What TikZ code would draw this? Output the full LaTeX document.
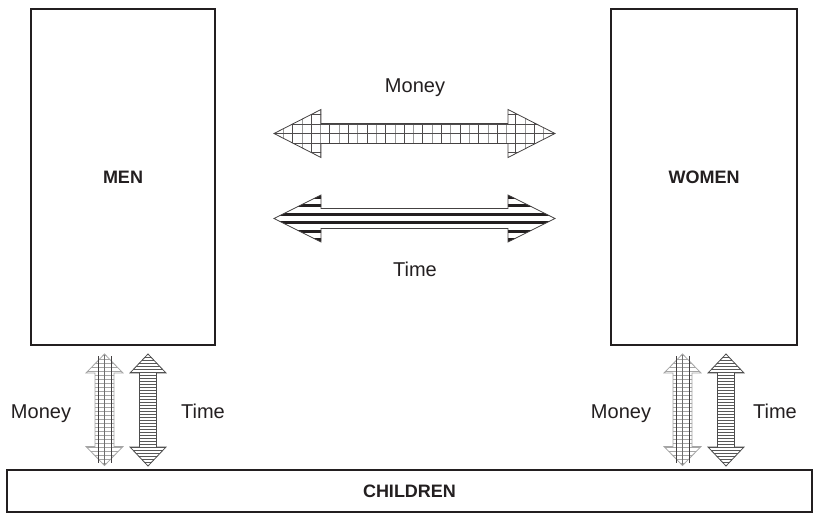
\documentclass[tikz,border=0pt]{standalone}
\usepackage{fontspec}
\setmainfont{Liberation Sans}
\definecolor{ink}{RGB}{35,31,32}
\definecolor{midgray}{RGB}{110,110,110}
\definecolor{lightgray}{RGB}{165,165,165}

% horizontal double block arrow: x1, x2, centre y, head length, head half-width, shaft half-width
\newcommand\hdblarrow[6]{(#1,#3) -- ({#1+#4},{#3-#5}) -- ({#1+#4},{#3-#6}) -- ({#2-#4},{#3-#6}) -- ({#2-#4},{#3-#5}) -- (#2,#3) -- ({#2-#4},{#3+#5}) -- ({#2-#4},{#3+#6}) -- ({#1+#4},{#3+#6}) -- ({#1+#4},{#3+#5}) -- cycle}
% vertical double block arrow: y1, y2, centre x, head length, head half-width, shaft half-width
\newcommand\vdblarrow[6]{(#3,#1) -- ({#3+#5},{#1+#4}) -- ({#3+#6},{#1+#4}) -- ({#3+#6},{#2-#4}) -- ({#3+#5},{#2-#4}) -- (#3,#2) -- ({#3-#5},{#2-#4}) -- ({#3-#6},{#2-#4}) -- ({#3-#6},{#1+#4}) -- ({#3-#5},{#1+#4}) -- cycle}

\tikzset{
  box/.style={draw=ink, line width=2pt, inner sep=0pt, fill=white,
    font=\fontsize{18}{21}\selectfont\bfseries, text=ink},
  lbl/.style={font=\fontsize{20}{24}\selectfont, text=ink, inner sep=0pt, anchor=base},
  outline/.style={draw=ink!85, line width=0.8pt, line join=miter},
  lightoutline/.style={draw=lightgray, line width=0.8pt},
  gridd/.style={draw=ink!80, line width=0.9pt},
  gridl/.style={draw=midgray!70, line width=0.8pt},
}

% money exchange between adults (grid-filled)
\newcommand\moneyH[1]{%
  \begin{scope}
    \clip \hdblarrow{274}{555}{#1}{47}{24}{10};
    \foreach \i in {0,2,...,30} \draw[gridd] ({274+\i*9.3},{#1-30}) -- ({274+\i*9.3},{#1+30});
    \foreach \i in {1,3,...,31} \draw[gridl] ({274+\i*9.3},{#1-30}) -- ({274+\i*9.3},{#1+30});
    \foreach \j in {-3,...,3} \draw[gridd] (270,{#1+\j*9.5}) -- (560,{#1+\j*9.5});
  \end{scope}
  \draw[outline] \hdblarrow{274}{555}{#1}{47}{24}{10};}

% time exchange between adults (black bands)
\newcommand\timeH[1]{%
  \begin{scope}
    \clip \hdblarrow{274}{555}{#1}{47}{23.5}{10};
    \foreach \j in {-3,...,2} \draw[ink, line width=3pt] (270,{#1+(\j+0.5)*8.4}) -- (560,{#1+(\j+0.5)*8.4});
  \end{scope}
  \draw[outline] \hdblarrow{274}{555}{#1}{47}{23.5}{10};}

% money towards children (light grid)
\newcommand\moneyV[1]{%
  \begin{scope}
    \clip \vdblarrow{354}{465.5}{#1}{19}{18.5}{9.5};
    \foreach \j in {0,...,28} \draw[lightgray, line width=0.7pt] ({#1-20},{355+\j*4}) -- ({#1+20},{355+\j*4});
    \draw[midgray, line width=0.5pt] (#1,350) -- (#1,470);
  \end{scope}
  \draw[lightoutline] \vdblarrow{354}{465.5}{#1}{19}{18.5}{9.5};
  \draw[ink!85, line width=1pt] ({#1-6.5},356) -- ({#1-6.5},463);
  \draw[ink!85, line width=1pt] ({#1+6.5},356) -- ({#1+6.5},463);}

% time towards children (dense stripes)
\newcommand\timeV[1]{%
  \begin{scope}
    \clip \vdblarrow{354}{466}{#1}{19}{18}{8.5};
    \foreach \j in {0,...,38} \draw[midgray!80!black, line width=1.1pt] ({#1-20},{354.5+\j*3}) -- ({#1+20},{354.5+\j*3});
  \end{scope}
  \draw[draw=midgray!70!black, line width=0.8pt] \vdblarrow{354}{466}{#1}{19}{18}{8.5};}

\begin{document}
\begin{tikzpicture}[x=1pt,y=-1pt]
  \useasboundingbox[fill=white] (0,0) rectangle (814,516);

  % the three groups
  \node[box, minimum width=184pt, minimum height=336pt] (men) at (123,177) {MEN};
  \node[box, minimum width=186pt, minimum height=336pt] (women) at (704,177) {WOMEN};
  \node[box, minimum width=805pt, minimum height=42pt] (children) at (409.5,491) {CHILDREN};

  % exchanges between men and women
  \moneyH{133.5}
  \timeH{218.5}
  \node[lbl] (moneyab) at (415,93) {Money};
  \node[lbl] (timeab) at (415,276) {Time};

  % transfers to children
  \moneyV{104.5}
  \timeV{148}
  \moneyV{682.5}
  \timeV{726}
  \node[lbl] (moneyml) at (41,418) {Money};
  \node[lbl] (timeml) at (203,418) {Time};
  \node[lbl] (moneywl) at (621,418) {Money};
  \node[lbl] (timewl) at (775,418) {Time};
\end{tikzpicture}
\end{document}
